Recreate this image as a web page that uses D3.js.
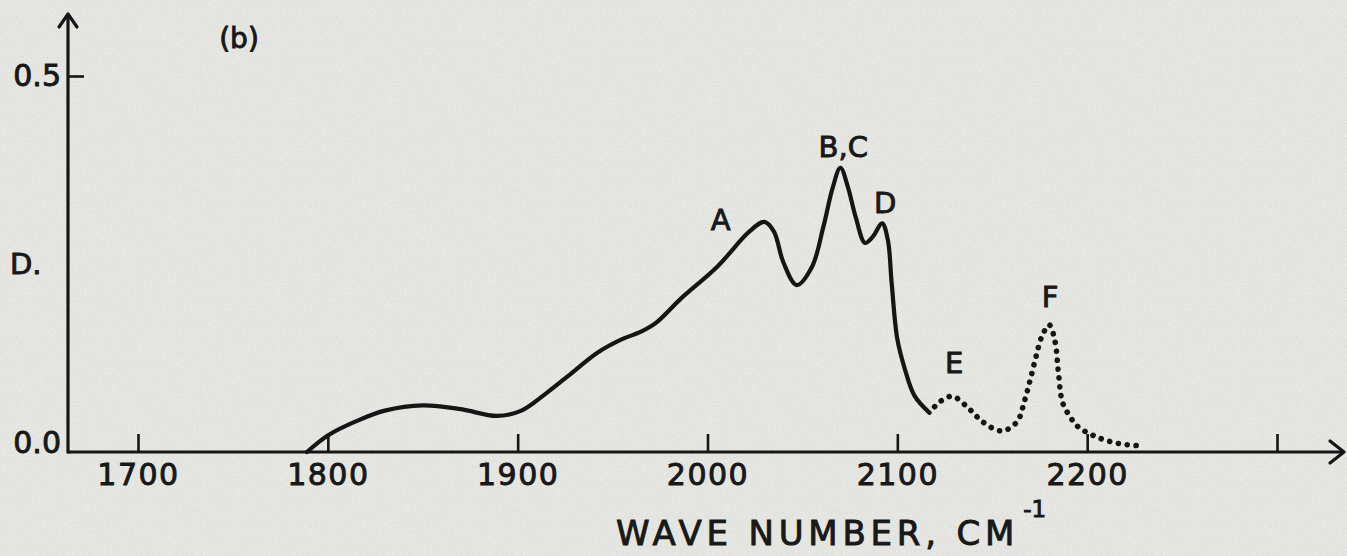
<!DOCTYPE html>
<html>
<head>
<meta charset="utf-8">
<script src="https://cdn.jsdelivr.net/npm/d3@7"></script>
<style>
  html, body { margin: 0; padding: 0; background: #e5e5e2; }
  svg { display: block; }
  text { font-family: "DejaVu Sans", sans-serif; fill: #1a1a1a; }
</style>
</head>
<body>
<svg id="chart" width="1347" height="556"></svg>
<script>
// ---- data (wave number cm^-1, optical density D) ----
const solidWave = [1789, 1800, 1815, 1830, 1850, 1870, 1889, 1902, 1915, 1928, 1942, 1955, 1965, 1973, 1986, 2005, 2022, 2030, 2035, 2040, 2047, 2055, 2061, 2066, 2070, 2074, 2078, 2083, 2087, 2092, 2095, 2097, 2100, 2104, 2109, 2117];
const solidD    = [0.000, 0.022, 0.041, 0.055, 0.062, 0.057, 0.048, 0.055, 0.078, 0.104, 0.132, 0.150, 0.160, 0.172, 0.204, 0.246, 0.293, 0.306, 0.293, 0.252, 0.222, 0.246, 0.299, 0.352, 0.378, 0.352, 0.313, 0.278, 0.286, 0.304, 0.282, 0.225, 0.150, 0.110, 0.075, 0.052];
const dottedWave = [2117, 2122, 2129, 2138, 2145, 2155, 2163, 2167, 2170, 2173, 2176, 2180, 2183, 2185, 2187, 2191, 2195, 2205, 2217, 2230];
const dottedD    = [0.052, 0.066, 0.074, 0.057, 0.040, 0.028, 0.040, 0.068, 0.096, 0.126, 0.153, 0.169, 0.148, 0.102, 0.066, 0.047, 0.034, 0.020, 0.011, 0.008];
const xTicks = [1700, 1800, 1900, 2000, 2100, 2200, 2300];
const xTickLabels = ["1700", "1800", "1900", "2000", "2100", "2200", ""];
const yTicks = [0.0, 0.5];
const yTickLabels = ["0.0", "0.5"];
const peakNames = ["A", "B,C", "D", "E", "F"];
const peakWave  = [2007, 2071.5, 2093.6, 2130, 2180.5];
const peakD     = [0.309, 0.405, 0.331, 0.119, 0.206];

const svg = d3.select("#chart");

// paper grain
const defs = svg.append("defs");
const f = defs.append("filter").attr("id", "grain").attr("x", 0).attr("y", 0).attr("width", "100%").attr("height", "100%");
f.append("feTurbulence").attr("type", "fractalNoise").attr("baseFrequency", 0.8).attr("numOctaves", 2).attr("seed", 3).attr("result", "n");
f.append("feColorMatrix").attr("in", "n").attr("type", "matrix")
  .attr("values", "0 0 0 0 0.45  0 0 0 0 0.45  0 0 0 0 0.43  0 0 0 -1.1 0.55");
svg.append("rect").attr("width", 1347).attr("height", 556).attr("fill", "#e6e6e3");
svg.append("rect").attr("width", 1347).attr("height", 556).attr("filter", "url(#grain)").attr("opacity", 0.6);

const x = d3.scaleLinear().domain([1700, 2300]).range([138, 1277]);
const y = d3.scaleLinear().domain([0, 0.5]).range([452, 76]);
const x0 = 68;

const ink = "#151515";
const textStroke = 0.9;

// axes lines with arrows
svg.append("line").attr("x1", x0).attr("x2", 1343).attr("y1", y(0)).attr("y2", y(0))
  .attr("stroke", ink).attr("stroke-width", 3.2);
svg.append("path").attr("d", `M1330,${y(0) - 11} L1344,${y(0)} L1330,${y(0) + 11}`)
  .attr("fill", "none").attr("stroke", ink).attr("stroke-width", 3.2).attr("stroke-linecap", "round").attr("stroke-linejoin", "round");
svg.append("line").attr("x1", x0).attr("x2", x0).attr("y1", y(0) + 1.5).attr("y2", 14)
  .attr("stroke", ink).attr("stroke-width", 3.2);
svg.append("path").attr("d", `M${x0 - 9},27 L${x0},14 L${x0 + 9},27`)
  .attr("fill", "none").attr("stroke", ink).attr("stroke-width", 3.2).attr("stroke-linecap", "round").attr("stroke-linejoin", "round");

// x axis ticks (upward) and labels
const xAxis = d3.axisBottom(x).tickValues(xTicks)
  .tickFormat((d, i) => xTickLabels[i]).tickSizeInner(-18).tickSizeOuter(0).tickPadding(12);
const gx = svg.append("g").attr("transform", `translate(0,${y(0)})`).call(xAxis);
gx.select(".domain").remove();
gx.selectAll(".tick line").attr("stroke", ink).attr("stroke-width", 2.6);
gx.selectAll(".tick text").attr("font-size", 30).attr("letter-spacing", 1.5)
  .attr("fill", ink).attr("stroke", ink).attr("stroke-width", textStroke)
  .style("font-family", "'DejaVu Sans', sans-serif");

// y axis ticks (rightward) and labels
const yAxis = d3.axisLeft(y).tickValues(yTicks)
  .tickFormat((d, i) => yTickLabels[i]).tickSizeInner(-16).tickSizeOuter(0).tickPadding(7);
const gy = svg.append("g").attr("transform", `translate(${x0},0)`).call(yAxis);
gy.select(".domain").remove();
gy.selectAll(".tick line").attr("stroke", ink).attr("stroke-width", 2.6)
  .attr("opacity", d => d === 0 ? 0 : 1);
gy.selectAll(".tick text").attr("font-size", 30).attr("fill", ink)
  .attr("stroke", ink).attr("stroke-width", textStroke)
  .attr("dy", d => d === 0 ? "-0.0em" : "0.32em")
  .style("font-family", "'DejaVu Sans', sans-serif");

// curve
const line = d3.line().x(d => x(d[0])).y(d => y(d[1])).curve(d3.curveCatmullRom.alpha(0.5));
const solidPts = solidWave.map((w, i) => [w, solidD[i]]);
const dottedPts = dottedWave.map((w, i) => [w, dottedD[i]]);
svg.append("path").datum(solidPts).attr("d", line)
  .attr("fill", "none").attr("stroke", ink).attr("stroke-width", 4.2)
  .attr("stroke-linecap", "round").attr("stroke-linejoin", "round");
svg.append("path").datum(dottedPts).attr("d", line)
  .attr("fill", "none").attr("stroke", ink).attr("stroke-width", 5.6)
  .attr("stroke-dasharray", "0.1 8.8").attr("stroke-dashoffset", -8)
  .attr("stroke-linecap", "round");

// peak labels
svg.selectAll("text.peak").data(peakNames).enter().append("text")
  .attr("class", "peak")
  .attr("x", (d, i) => x(peakWave[i]))
  .attr("y", (d, i) => y(peakD[i]))
  .attr("text-anchor", "middle").attr("dominant-baseline", "central")
  .attr("font-size", 29).attr("fill", ink).attr("stroke", ink).attr("stroke-width", textStroke)
  .text(d => d);

// other texts
svg.append("text").attr("x", 239).attr("y", 38).attr("text-anchor", "middle")
  .attr("dominant-baseline", "central").attr("font-size", 28).attr("fill", ink)
  .attr("stroke", ink).attr("stroke-width", textStroke).text("(b)");
svg.append("text").attr("x", 10).attr("y", 264).attr("dominant-baseline", "central")
  .attr("font-size", 29).attr("fill", ink).attr("stroke", ink).attr("stroke-width", textStroke).text("D.");
const title = svg.append("text").attr("x", 616).attr("y", 545).attr("font-size", 34)
  .attr("letter-spacing", 4.8).attr("fill", ink).attr("stroke", ink).attr("stroke-width", textStroke);
title.append("tspan").text("WAVE NUMBER, CM");
title.append("tspan").attr("dx", 4).attr("dy", -28).attr("font-size", 23).attr("letter-spacing", 0).text("-1");
</script>
</body>
</html>
